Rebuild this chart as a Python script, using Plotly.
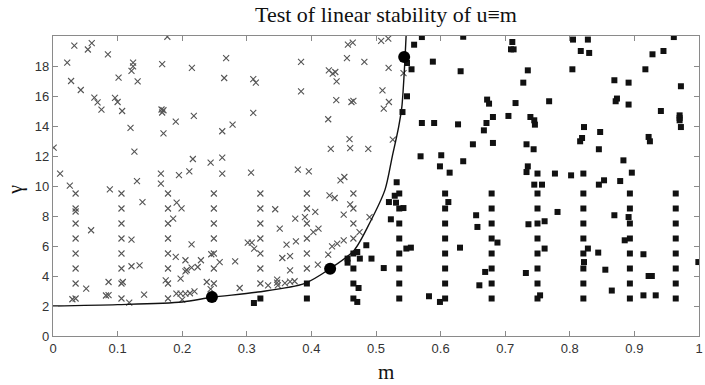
import plotly.graph_objects as go

# ---------------- data ----------------
# stability boundary curve
curve_m = [0.0, 0.1, 0.2, 0.246, 0.317, 0.389, 0.429, 0.466, 0.491, 0.514, 0.525, 0.535, 0.540, 0.5436, 0.5466]
curve_g = [2.0, 2.09, 2.27, 2.58, 2.93, 3.49, 4.49, 5.71, 7.6, 9.76, 11.93, 13.93, 15.27, 17.49, 20.0]

# large markers on the curve
dot_m = [0.246, 0.429, 0.5436]
dot_g = [2.6, 4.49, 18.6]

# stable cases (crosses) - regular rows
cross_grid_m = [0.035]*8 + [0.106]*8 + [0.178]*8 + [0.249]*7 + [0.321]*7 + [0.393]*6 + [0.465]*4
cross_grid_g = ([9.5, 8.5, 7.5, 6.5, 5.5, 4.5, 3.5, 2.5] * 3
                + [9.5, 8.5, 7.5, 6.5, 5.5, 4.5, 3.5] * 2
                + [9.5, 8.5, 7.5, 6.5, 5.5, 4.5]
                + [9.5, 8.5, 7.5, 6.5])

# stable cases (crosses) - scattered
cross_m = [0.177, 0.033, 0.060, 0.054, 0.085, 0.022, 0.124, 0.124, 0.1215, 0.169,
           0.215, 0.1015, 0.028, 0.131, 0.043, 0.064, 0.069, 0.075, 0.096, 0.100,
           0.107, 0.168, 0.171, 0.169, 0.190, 0.218, 0.120, 0.171, 0.001, 0.126,
           0.2165, 0.244, 0.011, 0.167, 0.195, 0.211, 0.130, 0.167, 0.026, 0.088,
           0.268, 0.384, 0.4565, 0.464, 0.455, 0.482, 0.265, 0.310, 0.314, 0.427,
           0.433, 0.437, 0.439, 0.384, 0.4385, 0.462, 0.465, 0.310, 0.278, 0.262,
           0.426, 0.459, 0.430, 0.460, 0.488, 0.262, 0.262, 0.3066, 0.379, 0.396,
           0.445, 0.451, 0.508, 0.519, 0.5195, 0.5426, 0.510, 0.512, 0.520, 0.526,
           0.1385, 0.1914, 0.199, 0.186, 0.059, 0.1215, 0.2145, 0.190, 0.205, 0.229,
           0.245, 0.1215, 0.134, 0.205, 0.207, 0.2145, 0.224, 0.1975, 0.1745, 0.238,
           0.0514, 0.086, 0.108, 0.082, 0.086, 0.141, 0.118, 0.191, 0.1975, 0.205,
           0.212, 0.219, 0.200, 0.244, 0.258, 0.030, 0.035,
           0.282, 0.289, 0.3015, 0.3077, 0.3114, 0.344, 0.351, 0.3615, 0.376, 0.375,
           0.390, 0.355, 0.367, 0.367, 0.333, 0.347, 0.348, 0.359, 0.367, 0.374,
           0.347, 0.406, 0.411, 0.403, 0.410, 0.426, 0.432, 0.440, 0.450, 0.428,
           0.436, 0.450, 0.460, 0.4745, 0.490]
cross_g = [19.95, 19.36, 19.53, 19.1, 18.78, 18.23, 18.23, 17.98, 17.67, 18.13,
           17.87, 17.23, 17.0, 16.98, 16.4, 15.89, 15.58, 15.09, 15.87, 15.6,
           15.0, 15.1, 15.05, 14.9, 14.29, 14.67, 13.87, 13.51, 12.56, 12.29,
           11.8, 11.56, 10.83, 10.83, 10.73, 10.98, 10.33, 10.16, 10.03, 9.78,
           18.53, 18.27, 19.43, 19.56, 18.53, 18.27, 17.2, 17.13, 16.89, 17.71,
           17.49, 17.6, 16.98, 16.31, 15.73, 15.6, 15.67, 14.87, 14.09, 13.65,
           14.45, 13.13, 12.47, 12.53, 12.47, 11.89, 10.83, 10.89, 11.09, 10.98,
           10.38, 10.6, 19.67, 19.83, 17.87, 17.53, 16.38, 15.16, 15.6, 13.09,
           8.93, 8.89, 8.51, 7.82, 7.05, 6.43, 6.11, 5.27, 5.05, 5.05,
           5.45, 4.65, 4.71, 4.31, 4.4, 4.56, 4.6, 3.83, 3.71, 3.6,
           3.16, 3.6, 3.6, 2.7, 2.72, 2.76, 2.23, 2.83, 2.83, 2.83,
           2.85, 2.98, 2.43, 3.13, 4.93, 2.45, 8.3,
           4.98, 3.2, 6.22, 6.22, 5.83, 8.45, 7.16, 6.09, 6.31, 7.83,
           7.93, 5.2, 5.33, 4.38, 3.38, 3.56, 3.38, 3.53, 3.62, 3.65,
           3.76, 8.27, 7.16, 6.93, 4.76, 5.43, 5.98, 6.16, 6.38, 9.38,
           9.2, 8.09, 8.78, 6.93, 7.93]

# unstable cases (squares) - regular rows
square_grid_m = ([0.321] + [0.393]*2 + [0.465]*4
                 + [0.536]*8 + [0.607]*8 + [0.679]*8 + [0.750]*8
                 + [0.821]*8 + [0.893]*8 + [0.964]*8)
square_grid_g = ([2.5] + [3.5, 2.5] + [5.5, 4.5, 3.5, 2.5]
                 + [9.5, 8.5, 7.5, 6.5, 5.5, 4.5, 3.5, 2.5] * 7)

# unstable cases (squares) - scattered
square_m = [0.571, 0.635, 0.559, 0.548, 0.555, 0.588, 0.631, 0.711, 0.709, 0.713,
            0.735, 0.728, 0.548, 0.672, 0.675, 0.716, 0.541, 0.571, 0.590, 0.627,
            0.671, 0.667, 0.681, 0.705, 0.739, 0.745, 0.746, 0.650, 0.681, 0.733,
            0.744, 0.569, 0.601, 0.599, 0.614, 0.635, 0.735, 0.733, 0.745, 0.532,
            0.805, 0.828, 0.817, 0.830, 0.961, 0.928, 0.945, 0.804, 0.917, 0.869,
            0.891, 0.972, 0.768, 0.873, 0.871, 0.891, 0.941, 0.970, 0.970, 0.970,
            0.972, 0.822, 0.847, 0.819, 0.816, 0.922, 0.924, 0.845, 0.883, 0.750,
            0.777, 0.802, 0.821, 0.896, 0.757, 0.845, 0.853, 0.878,
            0.529, 0.520, 0.531, 0.5425, 0.523, 0.493, 0.512, 0.485, 0.547, 0.554,
            0.582, 0.599, 0.612, 0.630, 0.655, 0.657, 0.669, 0.660, 0.688, 0.736,
            0.732, 0.471, 0.456, 0.475, 0.456, 0.473, 0.471, 0.311,
            0.781, 0.761, 0.869, 0.891, 0.885, 0.761, 0.828, 0.844, 0.822, 0.855,
            0.914, 0.922, 0.927, 0.865, 0.914, 0.933, 0.754, 0.999]
square_g = [19.93, 19.95, 19.42, 18.2, 17.78, 18.29, 17.65, 19.6, 19.11, 19.11,
            17.71, 16.89, 15.98, 15.76, 15.49, 15.53, 14.93, 14.2, 14.2, 14.11,
            14.2, 13.71, 14.6, 14.67, 14.6, 14.38, 14.09, 12.78, 12.87, 12.78,
            12.45, 11.98, 12.05, 11.31, 10.89, 11.65, 11.31, 10.93, 10.09, 10.25,
            19.76, 19.76, 19.0, 18.87, 19.93, 18.78, 19.0, 17.78, 17.78, 17.05,
            16.89, 16.65, 15.65, 15.83, 15.65, 15.43, 15.0, 14.71, 14.53, 14.38,
            13.93, 13.93, 13.6, 13.2, 12.98, 13.27, 12.98, 12.45, 11.71, 10.83,
            10.83, 10.71, 10.83, 10.89, 10.09, 10.09, 10.38, 10.33,
            9.35, 8.93, 8.89, 8.53, 7.78, 5.16, 4.53, 6.05, 5.83, 5.89,
            2.65, 2.27, 8.93, 5.89, 8.05, 7.27, 4.27, 3.38, 6.23, 7.45,
            4.2, 5.6, 5.16, 5.16, 4.89, 3.2, 2.27, 2.2,
            8.27, 7.65, 8.05, 7.93, 6.38, 5.83, 5.83, 5.56, 4.93, 4.42,
            5.45, 4.0, 4.0, 3.03, 2.71, 2.71, 2.71, 4.93]

x_ticks = [0, 0.1, 0.2, 0.3, 0.4, 0.5, 0.6, 0.7, 0.8, 0.9, 1.0]
x_tick_text = ["0", "0.1", "0.2", "0.3", "0.4", "0.5", "0.6", "0.7", "0.8", "0.9", "1"]
y_ticks = [0, 2, 4, 6, 8, 10, 12, 14, 16, 18]

title_text = "Test of linear stability of u\u2261m"

# ---------------- figure ----------------
fig = go.Figure()

cross_style = dict(symbol="x-thin", size=6, line=dict(width=1.1, color="#555555"), color="#555555")
square_style = dict(symbol="square", size=6, color="#111111", line=dict(width=0))

fig.add_trace(go.Scatter(x=cross_grid_m + cross_m, y=cross_grid_g + cross_g, mode="markers",
                         marker=cross_style, showlegend=False, hoverinfo="skip"))
fig.add_trace(go.Scatter(x=square_grid_m + square_m, y=square_grid_g + square_g, mode="markers",
                         marker=square_style, showlegend=False, hoverinfo="skip"))
fig.add_trace(go.Scatter(x=curve_m, y=curve_g, mode="lines",
                         line=dict(color="#111111", width=1.4, shape="spline", smoothing=0.8),
                         showlegend=False, hoverinfo="skip"))
fig.add_trace(go.Scatter(x=dot_m, y=dot_g, mode="markers",
                         marker=dict(symbol="circle", size=12, color="#000000"),
                         showlegend=False, hoverinfo="skip"))

axis_common = dict(showgrid=False, zeroline=False, showline=True, mirror="ticks",
                   linecolor="#8a8a8a", linewidth=1.3, ticks="inside", ticklen=5,
                   tickcolor="#8a8a8a", tickwidth=1, ticklabeloverflow="allow",
                   tickfont=dict(family="Liberation Sans, Arial, sans-serif", size=13, color="#333333"))

fig.update_layout(
    width=705, height=385,
    margin=dict(l=53, r=2, t=36, b=49),
    paper_bgcolor="white", plot_bgcolor="white",
    xaxis=dict(range=[0, 1], tickvals=x_ticks, ticktext=x_tick_text, **axis_common),
    yaxis=dict(range=[0, 20], tickvals=y_ticks, **axis_common),
    annotations=[
        dict(text=title_text, x=0.515, y=1.072, xref="paper", yref="paper",
             xanchor="center", yanchor="middle", showarrow=False,
             font=dict(family="Liberation Serif, Times New Roman, serif", size=22, color="#111111")),
        dict(text="m", x=0.515, y=-0.12, xref="paper", yref="paper",
             xanchor="center", yanchor="middle", showarrow=False,
             font=dict(family="Liberation Serif, Times New Roman, serif", size=21, color="#111111")),
        dict(text="\u03b3", x=-0.058, y=0.486, xref="paper", yref="paper", textangle=-90,
             xanchor="center", yanchor="middle", showarrow=False,
             font=dict(family="Liberation Serif, Times New Roman, serif", size=20, color="#111111")),
    ],
)

fig.write_html("out.html")
